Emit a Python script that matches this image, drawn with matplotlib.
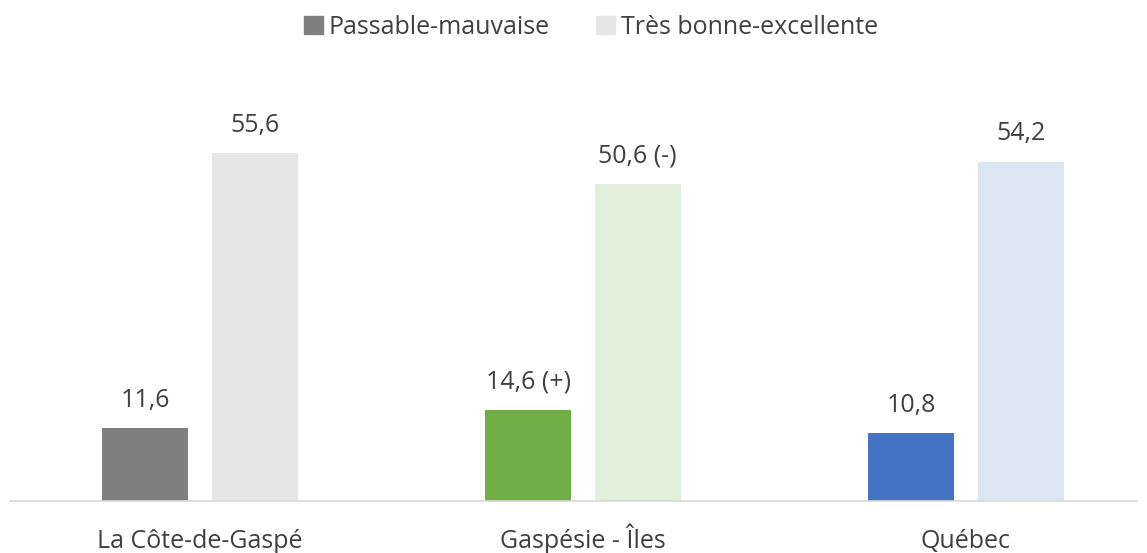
import numpy as np
import matplotlib.pyplot as plt
from matplotlib.patches import Patch

categories = ["La Côte-de-Gaspé", "Gaspésie - Îles", "Québec"]
series_names = ["Passable-mauvaise", "Très bonne-excellente"]
passable = [11.6, 14.6, 10.8]
tres_bonne = [55.6, 50.6, 54.2]
labels_passable = ["11,6", "14,6 (+)", "10,8"]
labels_tres_bonne = ["55,6", "50,6 (-)", "54,2"]

dark_colors = ["#7f7f7f", "#70ad47", "#4472c4"]
light_colors = ["#e7e6e6", "#e2efda", "#dce6f2"]
TXT = "#404040"
FS = 18

plt.rcParams["font.family"] = ["Open Sans", "DejaVu Sans"]

W, H = 1147, 553
fig = plt.figure(figsize=(W / 100, H / 100), dpi=100)
# axes placed in pixel terms: baseline at y=501, left 10, right 1137
ax = fig.add_axes([10 / W, 1 - 501 / H, 1127 / W, 441 / H])

x = np.arange(len(categories))
bw = 0.2245
off = 0.1425
b1 = ax.bar(x - off, passable, bw, color=dark_colors)
b2 = ax.bar(x + off, tres_bonne, bw, color=light_colors)

for bars, labs in [(b1, labels_passable), (b2, labels_tres_bonne)]:
    for rect, lab in zip(bars, labs):
        ax.annotate(lab, (rect.get_x() + rect.get_width() / 2, rect.get_height()),
                    xytext=(0, 11), textcoords="offset points", ha="center", va="bottom",
                    fontsize=FS, color=TXT)

ax.set_xlim((10 - 200) / 383, (1137 - 200) / 383)
ax.set_ylim(0, 441 / 6.26)
ax.set_xticks(x)
ax.set_xticklabels(categories, fontsize=FS, color=TXT, va="baseline")
ax.tick_params(axis="x", length=0, pad=34)
ax.set_yticks([])
for s in ["top", "right", "left"]:
    ax.spines[s].set_visible(False)
ax.spines["bottom"].set_color("#d9d9d9")
ax.spines["bottom"].set_linewidth(1.2)

handles = [Patch(color="#7f7f7f"), Patch(color="#e7e6e6")]
fig.legend(handles, series_names, loc="center", bbox_to_anchor=(591 / W, 1 - 27 / H),
           ncol=2, frameon=False, fontsize=FS, labelcolor=TXT,
           handlelength=0.75, handleheight=0.75, handletextpad=0.25, columnspacing=1.85)

fig.savefig("out.png", dpi=100)
